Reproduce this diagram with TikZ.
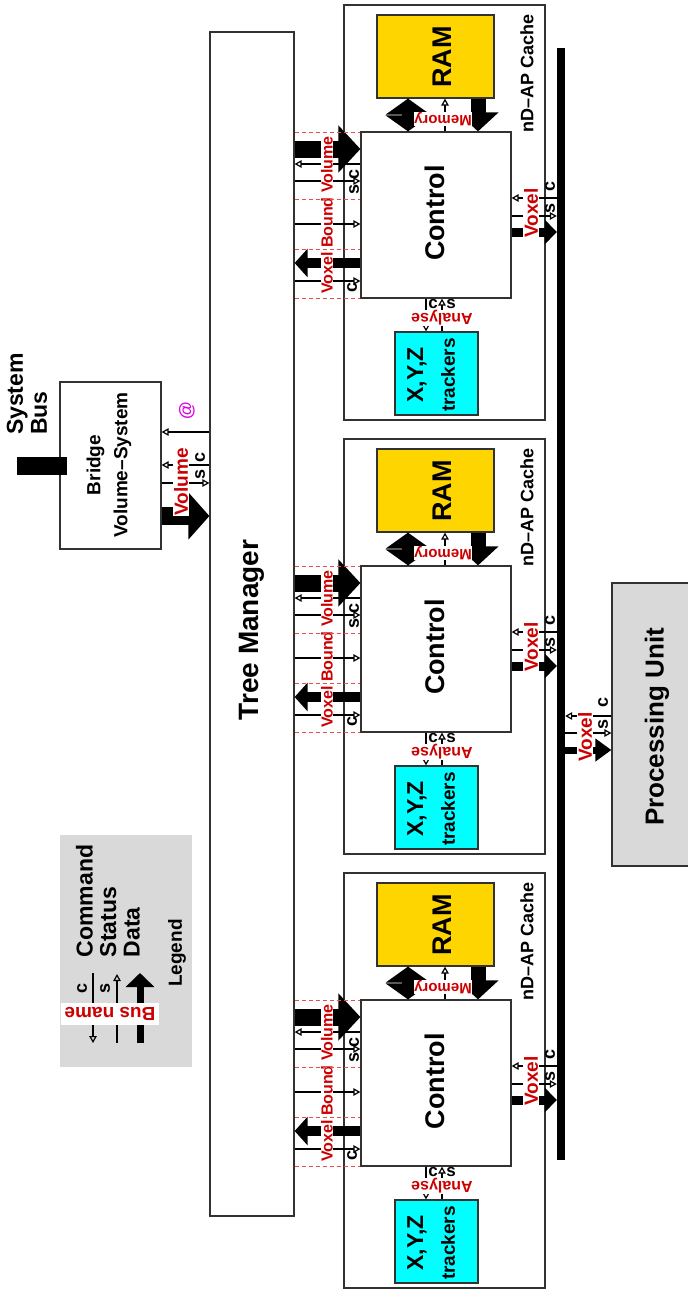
\documentclass[tikz,border=0pt]{standalone}
\usepackage{fontspec}
\setmainfont{Liberation Sans}
\usetikzlibrary{arrows.meta,fit}
\definecolor{lblred}{RGB}{204,0,0}
\definecolor{dashred}{RGB}{232,80,80}
\definecolor{ramgold}{RGB}{255,213,0}
\definecolor{trkcyan}{RGB}{0,255,255}
\definecolor{lgray}{RGB}{217,217,217}
\definecolor{atmag}{RGB}{221,0,221}
\definecolor{edge}{RGB}{50,50,50}
\newcommand\myfs[2]{\fontsize{#1}{#2}\selectfont}
\tikzset{
  box/.style={draw=edge, line width=1.2pt, inner sep=0pt},
  thinline/.style={line width=1.2pt},
  cmdarrow/.style={thinline, -{Triangle[open,length=7pt,width=7.5pt]}},
  lbl/.style={text=lblred, fill=white, inner sep=0.6pt},
  sc/.style={font=\bfseries\myfs{18}{18}, inner sep=0pt, rotate=90},
  scup/.style={font=\bfseries\myfs{17}{17}, inner sep=0pt},
  txt/.style={font=\bfseries, inner sep=0pt},
  reddash/.style={draw=dashred, line width=1pt, dash pattern=on 4pt off 3pt},
}
\begin{document}
\begin{tikzpicture}[x=1pt,y=-1pt]
\useasboundingbox (0,0) rectangle (688,1291);

% ---------- caches ----------
\foreach \i/\dy in {1/0,2/434,3/868}{
  \node[box, fit={(344,5+\dy)(545,420+\dy)}] (cache\i) {};
}

% ---------- Tree manager ----------
\node[box, fit={(210,32)(294,1216)}] (tm) {};
\node[txt, rotate=90, font=\bfseries\myfs{28}{28}] (tmtext) at (252,630) {Tree Manager};

% ---------- bus ----------
\node[fill=black, inner sep=0pt, fit={(557,48)(565,1160)}] (bus) {};

% ---------- processing unit ----------
\node[box, fill=lgray, fit={(612,583)(690,866)}] (pu) {};
\node[txt, rotate=90, font=\bfseries\myfs{26}{26}] (putext) at (657,727) {Processing Unit};

% ---------- bridge ----------
\node[box, fit={(60,382)(161,549)}] (br) {};
\node[txt, rotate=90, align=center, font=\bfseries\myfs{19}{27}] (brtext) at (109,465) {Bridge\\Volume–System};
\node[fill=black, inner sep=0pt, fit={(17,457)(67,475)}] (sysbus) {};
\node[txt, rotate=90, align=left, font=\bfseries\myfs{23}{24}] (sysbustext) at (27,394) {System\\Bus};

\draw[cmdarrow] (tm.west |- 0,432) -- (br.east |- 0,432);
\draw[cmdarrow] (tm.west |- 0,465) -- (br.east |- 0,465);
\draw[cmdarrow] (br.east |- 0,483) -- (tm.west |- 0,483);
\draw[line width=18pt, -{Triangle[length=21pt,width=46pt]}] (br.east |- 0,516) -- (tm.west |- 0,516);
\node[lbl, rotate=90, font=\bfseries\myfs{19}{19}] (volbl) at (181,482) {Volume};
\node[txt, rotate=90, text=atmag, font=\bfseries\myfs{18}{18}] (atlbl) at (187,411) {@};
\node[sc] (brc) at (200,457) {c};
\node[sc] (brs) at (200,474) {s};

% ---------- cache contents ----------
\foreach \i/\dy in {1/0,2/434,3/868}{
  \node[box, fill=ramgold, fit={(377,15+\dy)(494,98+\dy)}] (ram\i) {};
  \node[box, fill=white, fit={(361,132+\dy)(511,298+\dy)}] (ctrl\i) {};
  \node[box, fill=trkcyan, fit={(395,332+\dy)(478,415+\dy)}] (trk\i) {};
  \node[txt, rotate=90, font=\bfseries\myfs{27}{27}] at (442,57+\dy) {RAM};
  \node[txt, rotate=90, font=\bfseries\myfs{18}{18}] at (527,73+\dy) {nD–AP Cache};
  \node[txt, rotate=90, font=\bfseries\myfs{27}{27}] at (435,213+\dy) {Control};
  \node[txt, rotate=90, font=\bfseries\myfs{23}{23}] at (417,375+\dy) {X,Y,Z};
  \node[txt, rotate=90, font=\bfseries\myfs{19}{19}] at (448,375+\dy) {trackers};

  % memory
  \draw[line width=12pt, {Triangle[length=16pt,width=44pt]}-{Triangle[length=16pt,width=44pt]}] (ram\i.south -| 408,0) -- (ctrl\i.north -| 408,0);
  \draw[cmdarrow] (ctrl\i.north -| 445,0) -- (ram\i.south -| 445,0);
  \draw[line width=15pt, -{Triangle[length=19pt,width=40pt]}] (ram\i.south -| 478,0) -- (ctrl\i.north -| 478,0);
  \node[lbl, rotate=180, font=\bfseries\myfs{15}{15}] at (443,119+\dy) {Memory};

  % trackers
  \draw[cmdarrow] (ctrl\i.south -| 426,0) -- (trk\i.north -| 426,0);
  \draw[cmdarrow] (trk\i.north -| 442,0) -- (ctrl\i.south -| 442,0);
  \node[lbl, rotate=180, font=\bfseries\myfs{16}{16}] at (442,318+\dy) {Analyse};
  \node[scup] at (433,304+\dy) {c};
  \node[scup] at (451,304+\dy) {s};

  % tree manager side
  \draw[line width=17pt, -{Triangle[length=22pt,width=46pt]}] (tm.east |- 0,149+\dy) -- (ctrl\i.west |- 0,149+\dy);
  \draw[cmdarrow] (ctrl\i.west |- 0,164+\dy) -- (tm.east |- 0,164+\dy);
  \draw[cmdarrow] (tm.east |- 0,181+\dy) -- (ctrl\i.west |- 0,181+\dy);
  \draw[cmdarrow] (tm.east |- 0,224+\dy) -- (ctrl\i.west |- 0,224+\dy);
  \draw[line width=10pt, -{Triangle[length=13pt,width=28pt]}] (ctrl\i.west |- 0,263+\dy) -- (tm.east |- 0,263+\dy);
  \draw[cmdarrow] (tm.east |- 0,281+\dy) -- (ctrl\i.west |- 0,281+\dy);
  \node[lbl, rotate=90, font=\bfseries\myfs{16}{16}] at (327,215+\dy) {Voxel Bound Volume};
  \foreach \yy in {132,199,249,298}{
    \draw[reddash] (tm.east |- 0,\yy+\dy) -- (ctrl\i.west |- 0,\yy+\dy);
  }
  \node[sc] at (354,174+\dy) {c};
  \node[sc] at (354,189+\dy) {s};
  \node[sc] at (352,287+\dy) {c};

  % bus side
  \draw[cmdarrow] (bus.west |- 0,198+\dy) -- (ctrl\i.east |- 0,198+\dy);
  \draw[cmdarrow] (ctrl\i.east |- 0,216+\dy) -- (bus.west |- 0,216+\dy);
  \draw[line width=9pt, -{Triangle[length=12pt,width=24pt]}] (ctrl\i.east |- 0,232+\dy) -- (bus.west |- 0,232+\dy);
  \node[lbl, rotate=90, font=\bfseries\myfs{19}{19}] at (531,213+\dy) {Voxel};
  \node[sc] at (550,186+\dy) {c};
  \node[sc] at (550,208+\dy) {s};
}

% ---------- bus to processing unit ----------
\draw[cmdarrow] (pu.west |- 0,716) -- (bus.east |- 0,716);
\draw[cmdarrow] (bus.east |- 0,733) -- (pu.west |- 0,733);
\draw[line width=7pt, -{Triangle[length=16pt,width=22pt]}] (bus.east |- 0,750) -- (pu.west |- 0,750);
\node[lbl, rotate=90, font=\bfseries\myfs{19}{19}] (pulbl) at (585,737) {Voxel};
\node[sc] (puc) at (603,702) {c};
\node[sc] (pus) at (603,724) {s};

% ---------- legend ----------
\node[fill=lgray, inner sep=0pt, fit={(60,835)(192,1067)}] (leg) {};
\coordinate (lc1) at (93,973);  \coordinate (lc2) at (93,1043);
\coordinate (ls1) at (117,1043); \coordinate (ls2) at (117,974);
\coordinate (ld1) at (140,1043); \coordinate (ld2) at (140,973);
\draw[cmdarrow] (lc1) -- (lc2);
\draw[cmdarrow] (ls1) -- (ls2);
\draw[line width=7pt, -{Triangle[length=14pt,width=28pt]}] (ld1) -- (ld2);
\node[lbl, rotate=180, font=\bfseries\myfs{19}{19}, inner xsep=3.5pt, inner ysep=4.5pt] (busname) at (110,1014) {Bus name};
\node[sc] (legc) at (82,988) {c};
\node[sc] (legs) at (105,988) {s};
\node[txt, rotate=90, align=left, font=\bfseries\myfs{23}{23.5}] (legtext) at (108,901) {Command\\Status\\Data};
\node[txt, rotate=90, font=\bfseries\myfs{19}{19}] (legtitle) at (177,953) {Legend};
\end{tikzpicture}
\end{document}
